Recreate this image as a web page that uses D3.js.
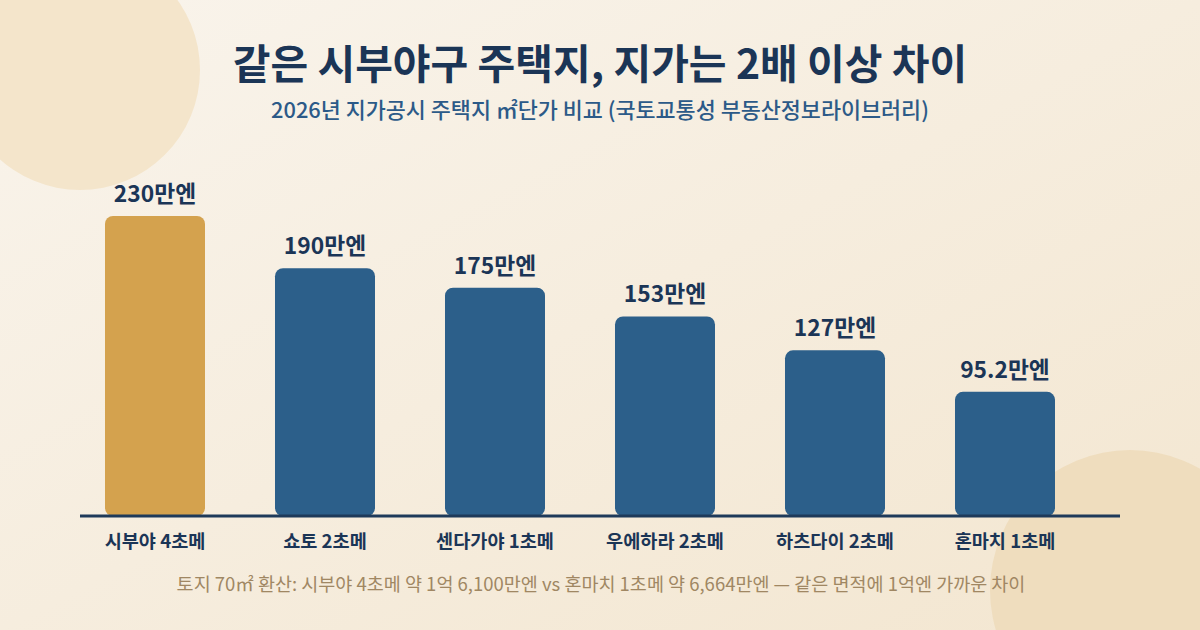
<!DOCTYPE html>
<html><head><meta charset="utf-8">
<script src="https://cdn.jsdelivr.net/npm/d3@7/dist/d3.min.js"></script>
<style>html,body{margin:0;padding:0;}svg{display:block;}</style>
</head><body>
<script>
const categories = ["시부야 4초메","쇼토 2초메","센다가야 1초메","우에하라 2초메","하츠다이 2초메","혼마치 1초메"];
const values = [230,190,175,153,127,95.2];
const valueLabels = ["230만엔","190만엔","175만엔","153만엔","127만엔","95.2만엔"];
const highlight = [true,false,false,false,false,false];
const title = "같은 시부야구 주택지, 지가는 2배 이상 차이";
const subtitle = "2026년 지가공시 주택지 ㎡단가 비교 (국토교통성 부동산정보라이브러리)";
const footnote = "토지 70㎡ 환산: 시부야 4초메 약 1억 6,100만엔 vs 혼마치 1초메 약 6,664만엔 — 같은 면적에 1억엔 가까운 차이";

const W=1200,H=630;
const font="'Noto Sans CJK KR','Noto Sans',sans-serif";
const svg=d3.select("body").append("svg").attr("width",W).attr("height",H);
const defs=svg.append("defs");
const g=defs.append("linearGradient").attr("id","bg").attr("x1","0").attr("y1","0").attr("x2","1").attr("y2","1");
g.append("stop").attr("offset","0").attr("stop-color","#f9f4ec");
g.append("stop").attr("offset","1").attr("stop-color","#f3e6d0");
svg.append("rect").attr("width",W).attr("height",H).attr("fill","url(#bg)");
svg.append("circle").attr("cx",80).attr("cy",70).attr("r",120).attr("fill","#f4e5cb");
svg.append("circle").attr("cx",1130).attr("cy",590).attr("r",140).attr("fill","#efddbe");

svg.append("text").attr("x",600).attr("y",79).attr("text-anchor","middle")
  .attr("font-family",font).attr("font-weight",700).attr("font-size",41).attr("fill","#1b3556").text(title);
svg.append("text").attr("x",600).attr("y",118).attr("text-anchor","middle")
  .attr("font-family",font).attr("font-weight",500).attr("font-size",21.8).attr("fill","#2c5a88").text(subtitle);

const x=d3.scaleBand().domain(categories).range([70,1090]).paddingInner(0.41176).paddingOuter(0.20588);
const y=d3.scaleLinear().domain([0,230]).range([516,216]);

const bars=svg.append("g");
bars.selectAll("rect").data(categories).join("rect")
  .attr("x",d=>x(d)).attr("y",(d,i)=>y(values[i]))
  .attr("width",x.bandwidth()).attr("height",(d,i)=>y(0)-y(values[i]))
  .attr("rx",8).attr("ry",8)
  .attr("fill",(d,i)=>highlight[i]?"#d4a24e":"#2c5f8a");

svg.append("g").selectAll("text").data(categories).join("text")
  .attr("x",d=>x(d)+x.bandwidth()/2).attr("y",(d,i)=>y(values[i])-14)
  .attr("text-anchor","middle").attr("font-family",font).attr("font-weight",700)
  .attr("font-size",22.8).attr("fill","#1b3556").text((d,i)=>valueLabels[i]);

const axis=svg.append("g").attr("transform","translate(0,516)")
  .call(d3.axisBottom(x).tickSize(0).tickPadding(19));
axis.select(".domain").remove();
axis.append("line").attr("x1",80).attr("x2",1120).attr("y1",0).attr("y2",0).attr("stroke","#1e3a5a").attr("stroke-width",3);
axis.selectAll(".tick text").attr("font-family",font).attr("font-weight",700).attr("font-size",18.6).attr("fill","#1b3556");

svg.append("text").attr("x",601).attr("y",591).attr("text-anchor","middle")
  .attr("font-family",font).attr("font-weight",400).attr("font-size",18.5).attr("fill","#a08763").text(footnote);
</script>
</body></html>
